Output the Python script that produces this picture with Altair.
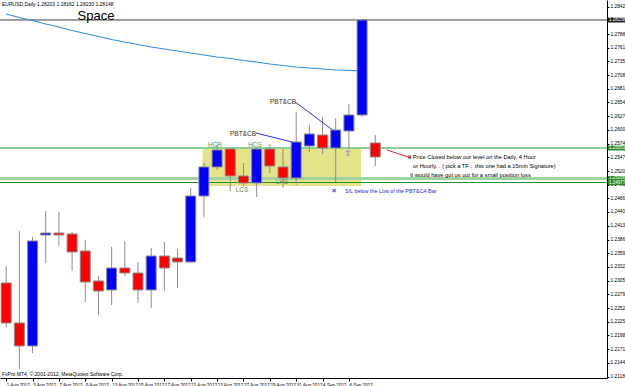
import altair as alt
import pandas as pd

# ---- data (EURUSD daily, 1 Aug - 10 Sep 2012) ----
dates = ["1 Aug 2012", "2 Aug 2012", "3 Aug 2012", "6 Aug 2012", "7 Aug 2012", "8 Aug 2012",
         "9 Aug 2012", "10 Aug 2012", "13 Aug 2012", "14 Aug 2012", "15 Aug 2012", "16 Aug 2012",
         "17 Aug 2012", "20 Aug 2012", "21 Aug 2012", "22 Aug 2012", "23 Aug 2012", "24 Aug 2012",
         "27 Aug 2012", "28 Aug 2012", "29 Aug 2012", "30 Aug 2012", "31 Aug 2012", "3 Sep 2012",
         "4 Sep 2012", "5 Sep 2012", "6 Sep 2012", "7 Sep 2012", "10 Sep 2012"]
opens = [1.23011, 1.22228, 1.21778, 1.23950, 1.23989, 1.23970, 1.23637, 1.23050, 1.22874, 1.23304,
         1.23206, 1.22874, 1.23539, 1.23500, 1.23422, 1.24713, 1.25281, 1.25633, 1.25105, 1.24968,
         1.25633, 1.25281, 1.25066, 1.25692, 1.25907, 1.25653, 1.25985, 1.26298, 1.25751]
highs = [1.23343, 1.24028, 1.23911, 1.24420, 1.24400, 1.24009, 1.23852, 1.23148, 1.23715, 1.23833,
         1.23422, 1.23696, 1.23813, 1.23676, 1.24870, 1.25359, 1.25711, 1.25653, 1.25359, 1.25653,
         1.25731, 1.25633, 1.26357, 1.26103, 1.26259, 1.26240, 1.26514, 1.28158, 1.25907]
lows = [1.22150, 1.21328, 1.21641, 1.23402, 1.23735, 1.23246, 1.22639, 1.22384, 1.22580, 1.23148,
        1.22619, 1.22521, 1.22854, 1.22913, 1.23402, 1.24302, 1.25222, 1.24811, 1.24909, 1.24694,
        1.25163, 1.24870, 1.24929, 1.25574, 1.25535, 1.24987, 1.25653, 1.26259, 1.25300]
closes = [1.22228, 1.21778, 1.23833, 1.23989, 1.23950, 1.23617, 1.23030, 1.22854, 1.23304, 1.23206,
          1.22874, 1.23539, 1.23304, 1.23422, 1.24713, 1.25281, 1.25614, 1.25105, 1.24968, 1.25633,
          1.25300, 1.25066, 1.25770, 1.25927, 1.25653, 1.26005, 1.26298, 1.28158, 1.25477]
ma = [1.28275, 1.28207, 1.28148, 1.28079, 1.28021, 1.27952, 1.27893, 1.27835, 1.27776, 1.27727,
      1.27678, 1.27629, 1.27590, 1.27551, 1.27512, 1.27473, 1.27434, 1.27404, 1.27365, 1.27336,
      1.27297, 1.27267, 1.27238, 1.27218, 1.27199, 1.27179, 1.27169, 1.27160]

price_ticks = [1.28420, 1.28150, 1.27880, 1.27615, 1.27350, 1.27080, 1.26815, 1.26545, 1.26275,
               1.26005, 1.25740, 1.25470, 1.25200, 1.24935, 1.24665, 1.24400, 1.24130, 1.23860,
               1.23595, 1.23325, 1.23055, 1.22790, 1.22520, 1.22250, 1.21985, 1.21715, 1.21445,
               1.21180]
date_tick_idx = [0, 2, 4, 6, 8, 10, 12, 14, 16, 18, 20, 22, 24, 26]

# horizontal levels
level_top = 1.28158
level_green_hi = 1.25653
level_green_lo = 1.25056
level_green_dark = 1.24977
# support/resistance zone: start idx, end idx, top price, bottom price
zone = [14.9, 26.93, 1.25653, 1.24909]
# pointer lines (idx, price) pairs
pointers_blue = [[18.94, 1.25946, 21.70, 1.25770], [21.93, 1.26553, 24.76, 1.26005]]
pointer_red = [28.87, 1.25614, 30.73, 1.25457]

# ---- build tables ----
df = pd.DataFrame({"i": list(range(len(dates))), "date": dates, "open": opens,
                   "high": highs, "low": lows, "close": closes})
df["dir"] = ["up" if c >= o else "down" for o, c in zip(opens, closes)]
ma_df = pd.DataFrame({"i": list(range(len(ma))), "ma": ma})

XDOM = [-0.09, 45.2]
YDOM = [1.21151, 1.28549]
xs = alt.Scale(domain=XDOM, nice=False, zero=False)
ys = alt.Scale(domain=YDOM, nice=False, zero=False)

label_arr = "[" + ",".join("'" + d + "'" for d in dates) + "]"
x_axis = alt.Axis(values=date_tick_idx, tickCount=60, labelExpr=label_arr + "[datum.value]",
                  title=None, orient="bottom", labelAlign="left", labelFontSize=4.6,
                  labelFont="Liberation Sans", labelPadding=1, tickSize=3, grid=False,
                  domainColor="#000000", tickColor="#000000", labelColor="#000000",
                  labelFlush=False, labelOverlap=False)
y_axis = alt.Axis(values=price_ticks, tickCount=60, format=".5f", title=None, orient="right",
                  labelFontSize=4.8, labelFont="Liberation Sans", tickSize=2, labelPadding=1,
                  grid=False, domainColor="#000000", tickColor="#000000", labelColor="#000000",
                  labelFlush=False, labelOverlap=False)

base = alt.Chart(df)

zone_df = pd.DataFrame({"x": [zone[0]], "x2": [zone[1]], "y": [zone[2]], "y2": [zone[3]]})
zone_layer = alt.Chart(zone_df).mark_rect(color="#e3e38a").encode(
    x=alt.X("x:Q", scale=xs, axis=x_axis), x2="x2:Q",
    y=alt.Y("y:Q", scale=ys, axis=y_axis), y2="y2:Q")

lvl_df = pd.DataFrame({"p": [level_top, level_green_hi, level_green_lo, level_green_dark],
                       "c": ["#404040", "#8fcf8f", "#9fd29f", "#2f8f2f"],
                       "w": [1, 2, 3, 1]})
levels = alt.Chart(lvl_df).mark_rule().encode(
    y=alt.Y("p:Q", scale=ys), x=alt.value(0), x2=alt.value(607),
    color=alt.Color("c:N", scale=None), strokeWidth=alt.StrokeWidth("w:Q", scale=None))

wicks = base.mark_rule(color="#8c8c8c", strokeWidth=1).encode(
    x=alt.X("i:Q", scale=xs), y=alt.Y("low:Q", scale=ys), y2="high:Q")

bodies = base.mark_bar(size=10, stroke="#8c8c8c", strokeWidth=1).encode(
    x=alt.X("i:Q", scale=xs), y=alt.Y("open:Q", scale=ys), y2="close:Q",
    color=alt.Color("dir:N", scale=alt.Scale(domain=["up", "down"], range=["#0000ff", "#ff0000"]),
                    legend=None))

ma_line = alt.Chart(ma_df).mark_line(color="#2f8fe8", strokeWidth=1.2).encode(
    x=alt.X("i:Q", scale=xs), y=alt.Y("ma:Q", scale=ys))

ptr_df = pd.DataFrame({"x": [p[0] for p in pointers_blue] + [pointer_red[0]],
                       "y": [p[1] for p in pointers_blue] + [pointer_red[1]],
                       "x2": [p[2] for p in pointers_blue] + [pointer_red[2]],
                       "y2": [p[3] for p in pointers_blue] + [pointer_red[3]],
                       "c": ["#2233dd", "#2233dd", "#ee2222"]})
pointers = alt.Chart(ptr_df).mark_rule(strokeWidth=1).encode(
    x=alt.X("x:Q", scale=xs), y=alt.Y("y:Q", scale=ys), x2="x2:Q", y2="y2:Q",
    color=alt.Color("c:N", scale=None))

# price tags on the right axis
tag_df = pd.DataFrame({"p": [level_top, level_green_hi, level_green_lo, level_green_dark],
                       "bg": ["#202020", "#2a8a2a", "#2a8a2a", "#2a8a2a"],
                       "t": [f"{level_top:.5f}", f"{level_green_hi:.5f}", f"{level_green_lo:.5f}",
                             f"{level_green_dark:.5f}"]})
tag_bg = alt.Chart(tag_df).mark_rule(strokeWidth=5).encode(
    y=alt.Y("p:Q", scale=ys), x=alt.value(608), x2=alt.value(625),
    color=alt.Color("bg:N", scale=None))
tag_tx = alt.Chart(tag_df).mark_text(align="left", baseline="middle", fontSize=4.5,
                                     font="Liberation Sans", color="#ffffff").encode(
    y=alt.Y("p:Q", scale=ys), x=alt.value(609), text="t:N")


def txt(s, x, y, size=6.0, color="#000000", align="left", weight="normal"):
    return alt.Chart(pd.DataFrame({"t": [s]})).mark_text(
        align=align, baseline="middle", fontSize=size, font="Liberation Sans",
        color=color, fontWeight=weight).encode(x=alt.value(x), y=alt.value(y), text="t:N")


annots = [
    txt("EURUSD,Daily  1.28203 1.28162 1.28230 1.28148", 2, 4, 5),
    txt("Space", 96, 16, 13, align="center"),
    txt("PBT&CB", 270, 102, 6.5, "#333333"),
    txt("PBT&CB", 230, 134, 6.5, "#333333"),
    txt("HCR", 215, 145, 6.5, "#5f8f5f", "center"),
    txt("HCS", 255, 145, 6.5, "#5f8f5f", "center"),
    txt("LCS", 242, 190, 6.5, "#5f8f5f", "center"),
    txt("LHS", 282, 182, 6.5, "#5f8f5f", "center"),
    txt("⇧", 348, 153, 9, "#6a6ad0", "center"),
    txt("×", 334, 191, 8, "#3030e0", "center", "bold"),
    txt("S/L below the Low of the PBT&CA Bar", 345, 191, 5.4, "#2828e8"),
    txt("If Price Closed below our level on the Daily, 4 Hour", 408, 157, 5.7),
    txt("or Hourly. . ( pick a TF . .this one had a 15min Signature)", 413, 166, 5.7),
    txt("It would have got us out for a small position loss", 410, 175, 5.7),
    txt("FxPro MT4, © 2001-2012, MetaQuotes Software Corp.", 2, 374, 5),
]

chart = alt.layer(zone_layer, levels, ma_line, wicks, bodies, pointers, tag_bg, tag_tx, *annots).properties(
    width=607, height=378,
    padding={"left": 0, "top": 0, "right": 18, "bottom": 8},
    autosize=alt.AutoSizeParams(type="none"),
    background="#ffffff",
).configure_view(strokeWidth=0).configure_axis(labelOverlap=False, labelBound=False)

chart.save("out.html", embed_options={"renderer": "svg", "actions": False})
